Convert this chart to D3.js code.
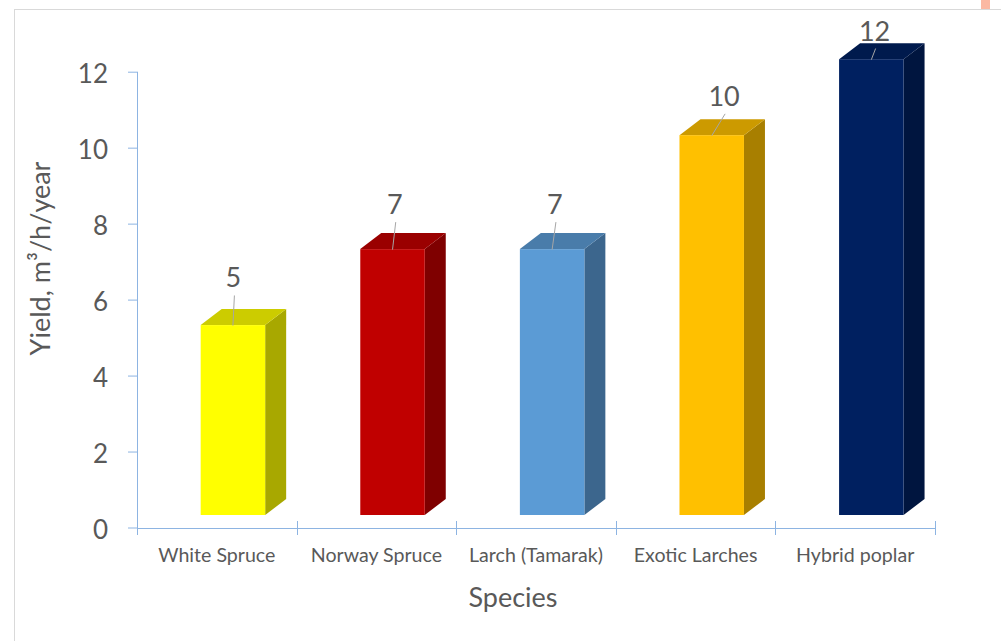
<!DOCTYPE html>
<html>
<head>
<meta charset="utf-8">
<script src="https://cdn.jsdelivr.net/npm/d3@7"></script>
<style>
  html, body { margin: 0; padding: 0; background: #ffffff; }
  svg { display: block; }
  text { font-family: Lato, "Open Sans", sans-serif; fill: #595959; }
</style>
</head>
<body>
<svg id="chart" width="1001" height="641"></svg>
<script>
// Annual yield by species
const species = ["White Spruce", "Norway Spruce", "Larch (Tamarak)", "Exotic Larches", "Hybrid poplar"];
const yieldValues = [5, 7, 7, 10, 12];
const barColors = ["#ffff00", "#c00000", "#5b9bd5", "#ffc000", "#002060"];
const yTicks = [0, 2, 4, 6, 8, 10, 12];

const svg = d3.select("#chart");

// chart frame
svg.append("line").attr("x1", 14).attr("x2", 1001).attr("y1", 9.5).attr("y2", 9.5)
  .attr("stroke", "#d9d9d9");
svg.append("line").attr("x1", 14.5).attr("x2", 14.5).attr("y1", 9).attr("y2", 641)
  .attr("stroke", "#d9d9d9");
svg.append("rect").attr("x", 981).attr("y", 0).attr("width", 9).attr("height", 9)
  .attr("fill", "#fbb8a2");

// scales
const x = d3.scaleBand().domain(species).range([137, 935]);
const y = d3.scaleLinear().domain([0, 12]).range([527.5, 71.7]);

// oblique 3D projection of the columns
const floorShift = -12.5;          // front face sits in front of the axis plane
const depth = { dx: 21, dy: -16 };
const faceStart = 0.399, faceWidth = 0.404;
const yFront = v => y(v) + floorShift;

const axisColor = "#8db4e2";

// value axis
const yAxis = d3.axisLeft(y).tickValues(yTicks).tickSize(9).tickPadding(20);
const gy = svg.append("g").attr("transform", "translate(137,0)").call(yAxis);
gy.select(".domain").remove();
gy.selectAll(".tick line").attr("stroke", axisColor);
gy.selectAll(".tick text")
  .attr("dy", "0.42em")
  .style("font-size", "26px")
  .style("font-family", "Lato, sans-serif")
  .attr("fill", "#595959");
svg.append("line").attr("x1", 137.5).attr("x2", 137.5)
  .attr("y1", y(12)).attr("y2", 535).attr("stroke", axisColor);

// category axis
svg.append("line").attr("x1", 137).attr("x2", 935)
  .attr("y1", 528.5).attr("y2", 528.5).attr("stroke", axisColor);
const boundaries = species.map(s => x(s)).concat([x.range()[1]]);
svg.append("g").selectAll("line").data(boundaries).join("line")
  .attr("x1", d => Math.round(d) + 0.5).attr("x2", d => Math.round(d) + 0.5)
  .attr("y1", 521).attr("y2", 535).attr("stroke", axisColor);

svg.append("g").selectAll("text").data(species).join("text")
  .attr("x", d => x(d) + x.bandwidth() / 2)
  .attr("y", 561.5)
  .attr("text-anchor", "middle")
  .style("font-size", "19.6px")
  .text(d => d);

// axis titles
svg.append("text")
  .attr("x", 513).attr("y", 607)
  .attr("text-anchor", "middle")
  .style("font-size", "27px")
  .text("Species");

svg.append("text")
  .attr("transform", "translate(50,258.5) rotate(-90)")
  .attr("text-anchor", "middle")
  .style("font-size", "27px")
  .text("Yield, m³/h/year");

// columns
const bars = species.map((s, i) => {
  const x0 = x(s) + x.bandwidth() * faceStart;
  const x1 = x0 + x.bandwidth() * faceWidth;
  return { s, v: yieldValues[i], color: barColors[i], x0, x1, yt: yFront(yieldValues[i]), yb: yFront(0) };
});

const shade = (c, k) => {
  const rgb = d3.rgb(c);
  return d3.rgb(rgb.r * k, rgb.g * k, rgb.b * k).formatHex();
};

const gBars = svg.append("g");
bars.forEach(b => {
  const { dx, dy } = depth;
  // side face
  gBars.append("polygon")
    .attr("points", [[b.x1, b.yt], [b.x1 + dx, b.yt + dy], [b.x1 + dx, b.yb + dy], [b.x1, b.yb]].join(" "))
    .attr("fill", shade(b.color, 0.66));
  // top face
  gBars.append("polygon")
    .attr("points", [[b.x0, b.yt], [b.x0 + dx, b.yt + dy], [b.x1 + dx, b.yt + dy], [b.x1, b.yt]].join(" "))
    .attr("fill", shade(b.color, 0.8));
  // front face
  gBars.append("rect")
    .attr("x", b.x0).attr("y", b.yt)
    .attr("width", b.x1 - b.x0).attr("height", b.yb - b.yt)
    .attr("fill", b.color);
});

// data labels, moved above the columns with leader lines
const labelNudge = [
  { dx: 0.5, dy: -37.6 },
  { dx: 2.2, dy: -35 },
  { dx: 2.8, dy: -35 },
  { dx: 12.4, dy: -29.3 },
  { dx: 3.3, dy: -18.7 }
];

const gLabels = svg.append("g");
bars.forEach((b, i) => {
  const cx = (b.x0 + b.x1) / 2;
  const lx = cx + labelNudge[i].dx;
  const ly = b.yt + labelNudge[i].dy;
  gLabels.append("line")
    .attr("x1", lx + 1).attr("y1", ly + 8)
    .attr("x2", cx).attr("y2", b.yt + 0.5)
    .attr("stroke", "#a6a6a6").attr("stroke-width", 1);
  gLabels.append("text")
    .attr("x", lx).attr("y", ly)
    .attr("text-anchor", "middle")
    .style("font-size", "27px")
    .attr("fill", "#404040")
    .text(d3.format("d")(b.v));
});
</script>
</body>
</html>
